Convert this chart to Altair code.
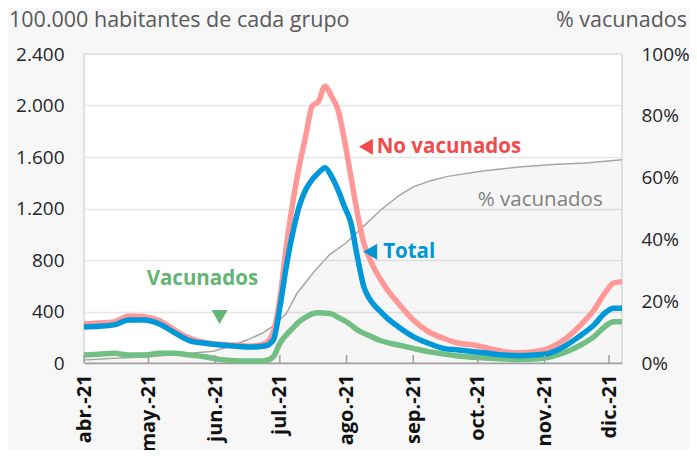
import altair as alt
import pandas as pd

dates = ["2021-04-01", "2021-04-08", "2021-04-15", "2021-04-22", "2021-04-29", "2021-05-06",
         "2021-05-13", "2021-05-20", "2021-05-27", "2021-06-03", "2021-06-10", "2021-06-17",
         "2021-06-24", "2021-06-28", "2021-07-01", "2021-07-04", "2021-07-07", "2021-07-10",
         "2021-07-13", "2021-07-16", "2021-07-19", "2021-07-22", "2021-07-25", "2021-07-28",
         "2021-07-31", "2021-08-03", "2021-08-06", "2021-08-09", "2021-08-12", "2021-08-16",
         "2021-08-20", "2021-08-25", "2021-09-01", "2021-09-08", "2021-09-15", "2021-09-22",
         "2021-09-29", "2021-10-06", "2021-10-13", "2021-10-20", "2021-10-27", "2021-11-03",
         "2021-11-10", "2021-11-17", "2021-11-24", "2021-11-29", "2021-12-03", "2021-12-07"]

no_vacunados = [303, 310, 319, 366, 360, 329, 257, 194, 160, 145, 140, 130,
                150, 240, 500, 905, 1245, 1527, 1760, 1994, 2033, 2150, 2072, 1968,
                1735, 1450, 1167, 933, 800, 671, 568, 466, 334, 244, 192, 153,
                140, 114, 88, 80, 88, 114, 179, 282, 412, 542, 620, 632]

total = [280, 285, 296, 334, 334, 303, 236, 174, 153, 140, 132, 124,
         132, 180, 430, 750, 1010, 1216, 1346, 1424, 1478, 1517, 1450, 1346,
         1216, 1089, 827, 594, 490, 412, 347, 282, 205, 153, 114, 101,
         88, 75, 62, 57, 62, 75, 127, 205, 296, 387, 425, 425]

vacunados = [62, 68, 75, 62, 62, 75, 75, 62, 49, 28, 18, 15,
             18, 49, 153, 218, 270, 321, 355, 381, 391, 387, 381, 355,
             329, 296, 257, 231, 210, 179, 158, 140, 114, 88, 70, 54,
             44, 36, 31, 28, 31, 44, 80, 132, 205, 282, 321, 321]

pct_dates = ["2021-04-01", "2021-04-15", "2021-05-01", "2021-05-15", "2021-05-31", "2021-06-08",
             "2021-06-16", "2021-06-23", "2021-06-28", "2021-07-04", "2021-07-09", "2021-07-17",
             "2021-07-24", "2021-08-01", "2021-08-07", "2021-08-17", "2021-08-25", "2021-09-01",
             "2021-09-09", "2021-09-17", "2021-10-04", "2021-10-20", "2021-11-05", "2021-11-20",
             "2021-12-07"]
pct_vacunados = [1.0, 1.5, 2.0, 2.8, 3.8, 5.4, 7.5, 9.7, 12.0, 16.0, 22.6, 29.6,
                 35.0, 39.0, 43.0, 49.6, 54.0, 57.0, 59.0, 60.4, 62.2, 63.4, 64.2, 64.7,
                 65.8]

series_names = ["No vacunados", "Total", "Vacunados"]
series_colors = ["#ff9896", "#0098d8", "#72bf84"]

month_ticks = ["2021-04-01", "2021-05-01", "2021-06-01", "2021-07-01", "2021-08-01",
               "2021-09-01", "2021-10-01", "2021-11-01", "2021-12-01"]

# annotations: (text, date, value, color, weight, align)
annotations = [
    ("No vacunados", "2021-08-15", 1680, "#f24b4b", "bold", "left"),
    ("Total", "2021-08-18", 864, "#0096d6", "bold", "left"),
    ("Vacunados", "2021-05-26", 654, "#63b574", "bold", "center"),
    ("% vacunados", "2021-10-30", 1268, "#7f7f7f", "normal", "center"),
]

tri_date = ["2021-08-10", "2021-08-12", "2021-06-03"]
tri_value = [1680, 864, 358]
tri_shape = ["triangle-left", "triangle-left", "triangle-down"]
tri_color = ["#f24b4b", "#0096d6", "#63b574"]

FONT = "Open Sans"
W, H = 538, 309

rows = []
for name, vals in zip(series_names, [no_vacunados, total, vacunados]):
    for d, v in zip(dates, vals):
        rows.append({"date": d, "value": v, "serie": name})
df = pd.DataFrame(rows)
df_pct = pd.DataFrame({"date": pct_dates, "pct": pct_vacunados})
df_ticks = pd.DataFrame({"date": month_ticks})
df_tri = pd.DataFrame({"date": tri_date, "value": tri_value, "shape": tri_shape, "color": tri_color})

xscale = alt.Scale(type="utc", domain=["2021-04-01", "2021-12-07"])
month_vals = [alt.DateTime(year=2021, month=m, date=1, utc=True) for m in range(4, 13)]
xaxis = alt.Axis(
    values=month_vals,
    labelExpr="['ene.','feb.','mar.','abr.','may.','jun.','jul.','ago.','sep.','oct.','nov.','dic.'][utcmonth(datum.value)] + '-21'",
    labelAngle=270, labelAlign="right", labelBaseline="middle",
    labelFont=FONT, labelFontSize=20, labelFontWeight="bold", labelColor="#111111",
    labelPadding=11, ticks=False, domain=True, domainColor="#a0a0a0", domainWidth=1.5,
    grid=False, title=None, labelFlush=False, labelOverlap=False,
)
yscale = alt.Scale(domain=[0, 2400], nice=False)
yaxis = alt.Axis(
    values=[0, 400, 800, 1200, 1600, 2000, 2400],
    labelExpr="replace(format(datum.value, ','), ',', '.')",
    labelFont=FONT, labelFontSize=19, labelColor="#262626", labelPadding=20,
    domain=False, ticks=False, grid=True, gridColor="#e6e6e6", gridWidth=1.5, title=None,
    orient="left",
)

base_x = alt.X("date:T", scale=xscale, axis=xaxis)
y_left = alt.Y("value:Q", scale=yscale, axis=yaxis)

pct_base = alt.Chart(df_pct).encode(
    x=base_x,
    y=alt.Y("pct:Q", scale=alt.Scale(domain=[0, 100], nice=False),
            axis=alt.Axis(values=[0, 20, 40, 60, 80, 100], labelExpr="datum.value + '%'",
                          labelFont=FONT, labelFontSize=19, labelColor="#262626",
                          labelPadding=19, labelAlign="left", domain=False, ticks=False,
                          grid=False, title=None, orient="right")),
)
pct_layer = alt.layer(
    pct_base.mark_area(color="#000000", opacity=0.035),
    pct_base.mark_line(color="#a6a6a6", strokeWidth=1.5),
)

# draw order: pink, then green, then blue
lines_layers = [
    alt.Chart(df[df.serie == s]).mark_line(strokeWidth=5.5, interpolate="monotone", color=c).encode(
        x=base_x, y=y_left)
    for s, c in [("No vacunados", series_colors[0]), ("Vacunados", series_colors[2]),
                 ("Total", series_colors[1])]
]

ticks = alt.Chart(df_ticks).mark_rule(color="#a0a0a0", strokeWidth=1.5).encode(
    x=base_x, y=alt.value(H - 8), y2=alt.value(H))

ann_layers = []
for text, d, v, col, wt, al in annotations:
    ann_layers.append(
        alt.Chart(pd.DataFrame({"date": [d], "value": [v], "label": [text]})).mark_text(
            font=FONT, fontSize=20.5, fontWeight=wt, baseline="middle", align=al, color=col
        ).encode(x=base_x, y=y_left, text="label:N")
    )

tris = alt.Chart(df_tri).mark_point(filled=True, size=260, opacity=1).encode(
    x=base_x, y=y_left,
    shape=alt.Shape("shape:N", scale=None),
    color=alt.Color("color:N", scale=None),
)

title_left = alt.Chart(pd.DataFrame({"t": ["100.000 habitantes de cada grupo"]})).mark_text(
    font=FONT, fontSize=21.5, color="#595959", align="left", baseline="middle").encode(
    text="t:N", x=alt.value(-75), y=alt.value(-33))
title_right = alt.Chart(pd.DataFrame({"t": ["% vacunados"]})).mark_text(
    font=FONT, fontSize=21.5, color="#595959", align="right", baseline="middle").encode(
    text="t:N", x=alt.value(W + 65), y=alt.value(-33))

left_layer = alt.layer(*lines_layers, ticks, *ann_layers, tris, title_left, title_right)

chart = alt.layer(pct_layer, left_layer).resolve_scale(y="independent").properties(
    width=W, height=H,
    background="#f7f7f7",
    padding={"left": 76, "top": 46, "right": 67, "bottom": 87},
    autosize=alt.AutoSizeParams(type="none"),
).configure_view(fill="white", stroke="#d9d9d9", strokeWidth=1.5)

chart.save("out.html", embed_options={"renderer": "svg", "actions": False})
